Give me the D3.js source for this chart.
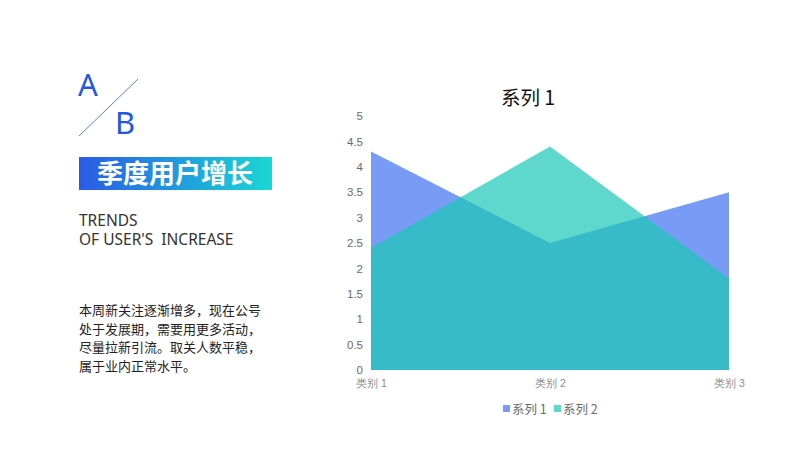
<!DOCTYPE html>
<html>
<head>
<meta charset="utf-8">
<script src="https://cdn.jsdelivr.net/npm/d3@7"></script>
<style>
  body { margin: 0; background: #fff; }
  svg { display: block; font-family: "Noto Sans CJK SC", "Noto Sans", sans-serif; }
</style>
</head>
<body>
<svg width="800" height="450"></svg>
<script>
// chart data
const categories = ['类别 1', '类别 2', '类别 3'];
const series1 = [4.3, 2.5, 3.5];
const series2 = [2.4, 4.4, 1.8];
const seriesNames = ['系列 1', '系列 2'];
const yTicks = [0, 0.5, 1, 1.5, 2, 2.5, 3, 3.5, 4, 4.5, 5];
const bodyLines = [
  '本周新关注逐渐增多，现在公号',
  '处于发展期，需要用更多活动，',
  '尽量拉新引流。取关人数平稳，',
  '属于业内正常水平。',
];

const svg = d3.select('svg');

// ---- left text block ----
svg.append('text')
  .attr('x', 78).attr('y', 96)
  .attr('font-size', 31).attr('fill', '#2457de')
  .attr('font-family', 'Noto Sans, sans-serif')
  .text('A');
svg.append('line')
  .attr('x1', 79).attr('y1', 136).attr('x2', 138).attr('y2', 79)
  .attr('stroke', '#5a7fd8').attr('stroke-width', 1);
svg.append('text')
  .attr('x', 115).attr('y', 134)
  .attr('font-size', 31).attr('fill', '#2457de')
  .attr('font-family', 'Noto Sans, sans-serif')
  .text('B');

const grad = svg.append('defs').append('linearGradient')
  .attr('id', 'banner').attr('x1', '0%').attr('x2', '100%');
grad.append('stop').attr('offset', '0%').attr('stop-color', '#2a5be6');
grad.append('stop').attr('offset', '100%').attr('stop-color', '#18d8d4');

svg.append('rect')
  .attr('x', 79).attr('y', 157).attr('width', 193).attr('height', 33)
  .attr('fill', 'url(#banner)');
svg.append('text')
  .attr('x', 175).attr('y', 183)
  .attr('text-anchor', 'middle')
  .attr('font-size', 26).attr('font-weight', 'bold').attr('fill', '#fff')
  .text('季度用户增长');

svg.append('text')
  .attr('x', 79).attr('y', 226)
  .attr('font-size', 15.5).attr('fill', '#333')
  .attr('font-family', 'Noto Sans, sans-serif')
  .text('TRENDS');
svg.append('text')
  .attr('x', 79).attr('y', 245)
  .attr('font-size', 15.5).attr('fill', '#333')
  .attr('font-family', 'Noto Sans, sans-serif')
  .style('white-space', 'pre')
  .text("OF USER'S  INCREASE");

svg.append('g').selectAll('text')
  .data(bodyLines)
  .enter().append('text')
    .attr('x', 79)
    .attr('y', (d, i) => 315 + i * 18.5)
    .attr('font-size', 13).attr('fill', '#222')
    .text(d => d);

// ---- chart ----
const x = d3.scalePoint().domain(categories).range([371, 729]);
const y = d3.scaleLinear().domain([0, 5]).range([370, 116]);

svg.append('text')
  .attr('x', 528).attr('y', 105)
  .attr('text-anchor', 'middle')
  .attr('font-size', 19.5).attr('fill', '#111')
  .text('系列 1');

const yAxis = svg.append('g')
  .attr('transform', 'translate(366,0)')
  .call(d3.axisLeft(y).tickValues(yTicks).tickSize(0).tickPadding(3).tickFormat(d3.format('')));
yAxis.select('.domain').remove();
yAxis.selectAll('text')
  .attr('font-size', 11.5).attr('fill', '#6a6a6a')
  .attr('font-family', 'Liberation Sans, Arial, sans-serif');

const xAxis = svg.append('g')
  .attr('transform', 'translate(0,370)')
  .call(d3.axisBottom(x).tickSize(0).tickPadding(10));
xAxis.select('.domain').remove();
xAxis.selectAll('text')
  .attr('font-size', 10.5).attr('fill', '#8a8a8a');

const area = d3.area()
  .x((d, i) => x(categories[i]))
  .y0(y(0))
  .y1(d => y(d));

svg.append('path')
  .datum(series1)
  .attr('d', area)
  .attr('fill', '#789cf5');
svg.append('path')
  .datum(series2)
  .attr('d', area)
  .attr('fill', '#1cc8b7')
  .attr('fill-opacity', 0.71);

// legend
const legendColors = ['#789cf5', '#5dd8cc'];
const legend = svg.append('g').selectAll('g')
  .data(seriesNames)
  .enter().append('g')
    .attr('transform', (d, i) => `translate(${503 + i * 51},409)`);
legend.append('rect')
  .attr('x', 0).attr('y', -4).attr('width', 7).attr('height', 7)
  .attr('fill', (d, i) => legendColors[i]);
legend.append('text')
  .attr('x', 9).attr('y', 4.5)
  .attr('font-size', 12.5).attr('fill', '#6a6a6a')
  .text(d => d);
</script>
</body>
</html>
